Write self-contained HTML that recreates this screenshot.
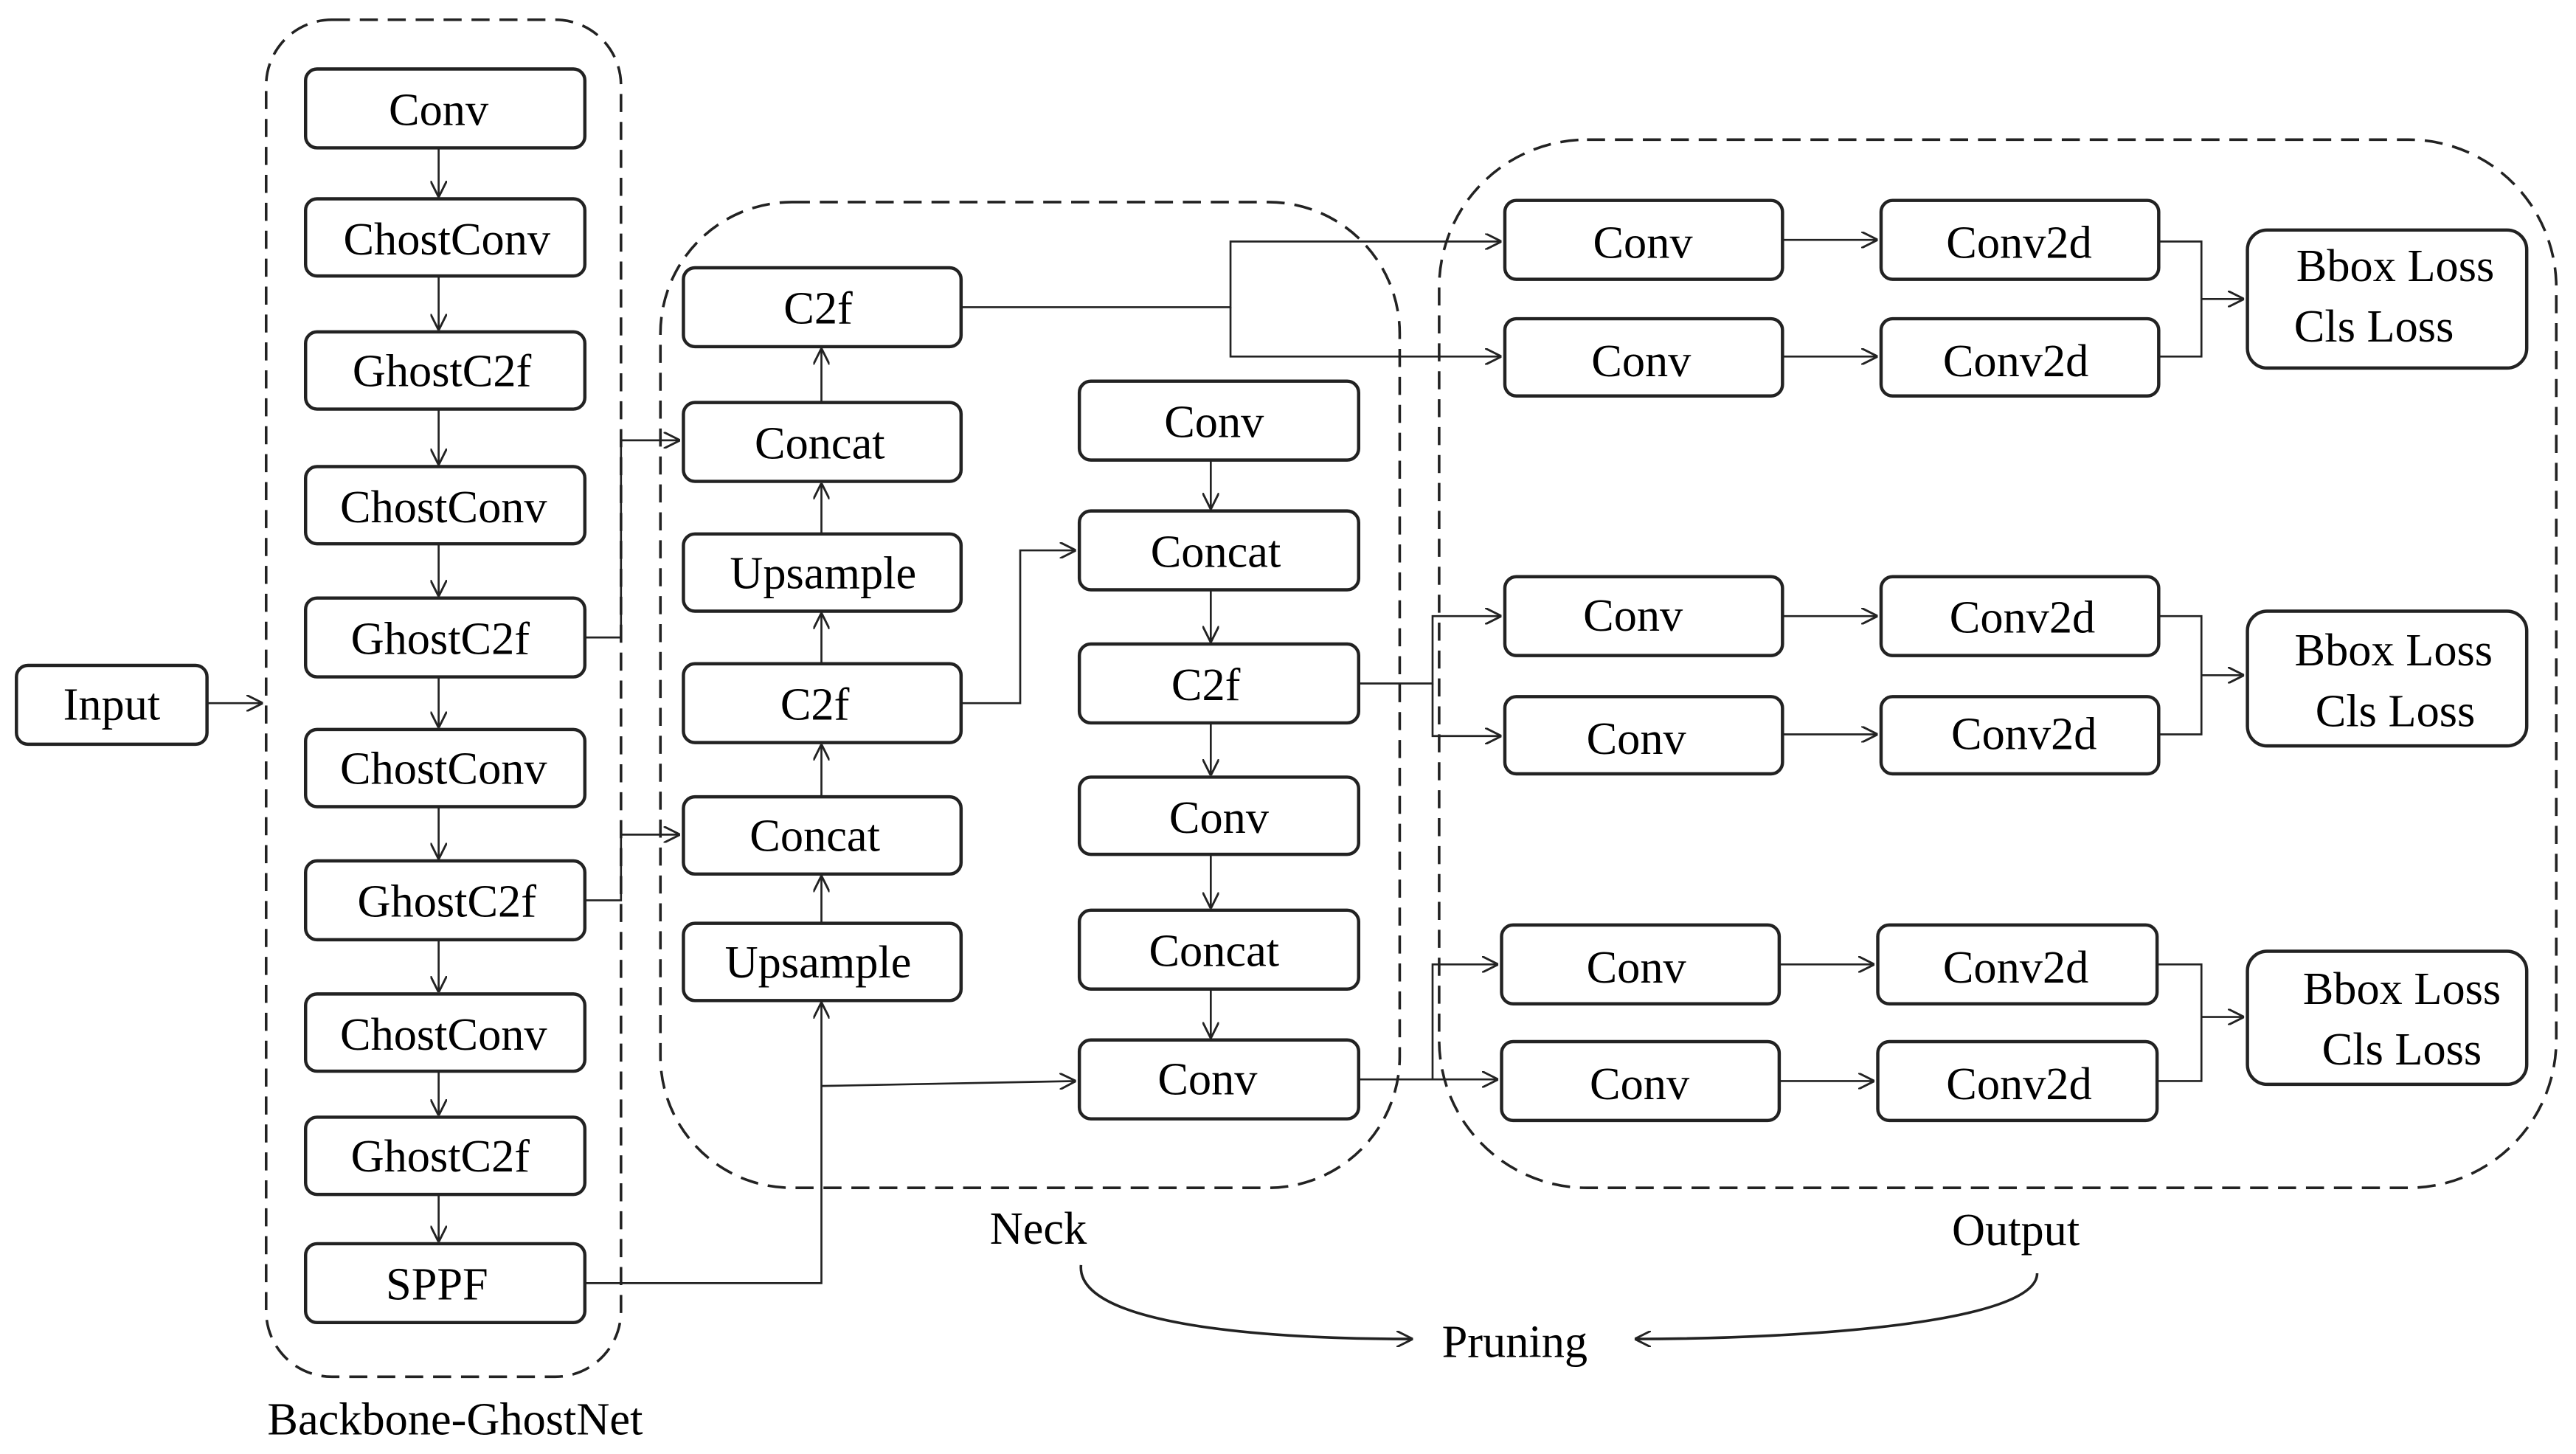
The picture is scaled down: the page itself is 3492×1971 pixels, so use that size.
<!DOCTYPE html>
<html><head><meta charset="utf-8"><style>
html,body{margin:0;padding:0;background:#fff;}
svg{display:block;}
svg text{font-family:"Liberation Serif","DejaVu Serif",serif !important;fill:#000;}
</style></head><body>
<svg width="3492" height="1971" viewBox="0 0 1568 885" preserveAspectRatio="none" xmlns="http://www.w3.org/2000/svg">
<defs>
<marker id="a" viewBox="0 0 10 10" refX="10" refY="5" markerWidth="10" markerHeight="10" markerUnits="userSpaceOnUse" orient="auto">
<path d="M0,0 L10,5 L0,10" fill="none" stroke="#222" stroke-width="1.3"/></marker>
</defs>
<g fill="none" stroke="#222" stroke-width="1.6" stroke-dasharray="11,6">
<rect x="162" y="12" width="216" height="826" rx="40"/>
<rect x="402" y="123" width="450" height="600" rx="80"/>
<rect x="876" y="85" width="680" height="638" rx="90"/>
</g>
<g fill="#fff" stroke="#222" stroke-width="2">
<rect x="10" y="405" width="116" height="48" rx="7"/>
<rect x="186" y="42" width="170" height="48" rx="7"/>
<rect x="186" y="121" width="170" height="47" rx="7"/>
<rect x="186" y="202" width="170" height="47" rx="7"/>
<rect x="186" y="284" width="170" height="47" rx="7"/>
<rect x="186" y="364" width="170" height="48" rx="7"/>
<rect x="186" y="444" width="170" height="47" rx="7"/>
<rect x="186" y="524" width="170" height="48" rx="7"/>
<rect x="186" y="605" width="170" height="47" rx="7"/>
<rect x="186" y="680" width="170" height="47" rx="7"/>
<rect x="186" y="757" width="170" height="48" rx="7"/>
<rect x="416" y="163" width="169" height="48" rx="7"/>
<rect x="416" y="245" width="169" height="48" rx="7"/>
<rect x="416" y="325" width="169" height="47" rx="7"/>
<rect x="416" y="404" width="169" height="48" rx="7"/>
<rect x="416" y="485" width="169" height="47" rx="7"/>
<rect x="416" y="562" width="169" height="47" rx="7"/>
<rect x="657" y="232" width="170" height="48" rx="7"/>
<rect x="657" y="311" width="170" height="48" rx="7"/>
<rect x="657" y="392" width="170" height="48" rx="7"/>
<rect x="657" y="473" width="170" height="47" rx="7"/>
<rect x="657" y="554" width="170" height="48" rx="7"/>
<rect x="657" y="633" width="170" height="48" rx="7"/>
<rect x="916" y="122" width="169" height="48" rx="7"/>
<rect x="916" y="194" width="169" height="47" rx="7"/>
<rect x="1145" y="122" width="169" height="48" rx="7"/>
<rect x="1145" y="194" width="169" height="47" rx="7"/>
<rect x="1368" y="140" width="170" height="84" rx="12"/>
<rect x="916" y="351" width="169" height="48" rx="7"/>
<rect x="916" y="424" width="169" height="47" rx="7"/>
<rect x="1145" y="351" width="169" height="48" rx="7"/>
<rect x="1145" y="424" width="169" height="47" rx="7"/>
<rect x="1368" y="372" width="170" height="82" rx="12"/>
<rect x="914" y="563" width="169" height="48" rx="7"/>
<rect x="914" y="634" width="169" height="48" rx="7"/>
<rect x="1143" y="563" width="170" height="48" rx="7"/>
<rect x="1143" y="634" width="170" height="48" rx="7"/>
<rect x="1368" y="579" width="170" height="81" rx="12"/>
</g>
<g fill="none" stroke="#222" stroke-width="1.2" marker-end="url(#a)">
<path d="M126,428H160"/>
<path d="M267,90V120"/><path d="M267,168V201"/><path d="M267,249V283"/><path d="M267,331V363"/>
<path d="M267,412V443"/><path d="M267,491V523"/><path d="M267,572V604"/><path d="M267,652V679"/><path d="M267,727V756"/>
<path d="M356,388H378V268H414"/>
<path d="M356,548H378V508H414"/>
<path d="M356,781H500V610"/>
<path d="M500,661L655,658"/>
<path d="M500,562V533"/><path d="M500,485V453"/><path d="M500,404V373"/><path d="M500,325V294"/><path d="M500,245V212"/>
<path d="M585,428H621V335H655"/>
<path d="M737,280V310"/><path d="M737,359V391"/><path d="M737,440V472"/><path d="M737,520V553"/><path d="M737,602V632"/>
<path d="M585,187H749V147H914"/>
<path d="M749,187V217H914"/>
<path d="M827,416H872V375H914"/>
<path d="M872,416V448H914"/>
<path d="M827,657H872V587H912"/>
<path d="M872,657H912"/>
<path d="M1085,146H1143"/><path d="M1085,217H1143"/>
<path d="M1085,375H1143"/><path d="M1085,447H1143"/>
<path d="M1083,587H1141"/><path d="M1083,658H1141"/>
<path d="M1314,147H1340V217H1314 M1340,182H1366"/>
<path d="M1314,375H1340V447H1314 M1340,411H1366"/>
<path d="M1313,587H1340V658H1313 M1340,619H1366"/>
<path d="M658,770C655,805 760,815 860,815" stroke-width="1.6"/>
<path d="M1240,775C1240,805 1100,815 995,815" stroke-width="1.6"/>
</g>
<g font-family="Liberation Serif, DejaVu Serif, serif" font-size="28" text-anchor="middle">
<text x="68" y="438">Input</text>
<text x="267" y="76">Conv</text>
<text x="272" y="155">ChostConv</text>
<text x="269" y="235">GhostC2f</text>
<text x="270" y="318">ChostConv</text>
<text x="268" y="398">GhostC2f</text>
<text x="270" y="477">ChostConv</text>
<text x="272" y="558">GhostC2f</text>
<text x="270" y="639">ChostConv</text>
<text x="268" y="713">GhostC2f</text>
<text x="266" y="791">SPPF</text>
<text x="498" y="197">C2f</text>
<text x="499" y="279">Concat</text>
<text x="501" y="358">Upsample</text>
<text x="496" y="438">C2f</text>
<text x="496" y="518">Concat</text>
<text x="498" y="595">Upsample</text>
<text x="739" y="266">Conv</text>
<text x="740" y="345">Concat</text>
<text x="734" y="426">C2f</text>
<text x="742" y="507">Conv</text>
<text x="739" y="588">Concat</text>
<text x="735" y="666">Conv</text>
<text x="1000" y="157">Conv</text>
<text x="999" y="229">Conv</text>
<text x="1229" y="157">Conv2d</text>
<text x="1227" y="229">Conv2d</text>
<text x="1458" y="171">Bbox Loss</text>
<text x="1445" y="208">Cls Loss</text>
<text x="994" y="384">Conv</text>
<text x="996" y="459">Conv</text>
<text x="1231" y="385">Conv2d</text>
<text x="1232" y="456">Conv2d</text>
<text x="1457" y="405">Bbox Loss</text>
<text x="1458" y="442">Cls Loss</text>
<text x="996" y="598">Conv</text>
<text x="998" y="669">Conv</text>
<text x="1227" y="598">Conv2d</text>
<text x="1229" y="669">Conv2d</text>
<text x="1462" y="611">Bbox Loss</text>
<text x="1462" y="648">Cls Loss</text>
<text x="632" y="757">Neck</text>
<text x="1227" y="758">Output</text>
<text x="922" y="826">Pruning</text>
<text x="277" y="873">Backbone-GhostNet</text>
</g>
</svg>
</body></html>
